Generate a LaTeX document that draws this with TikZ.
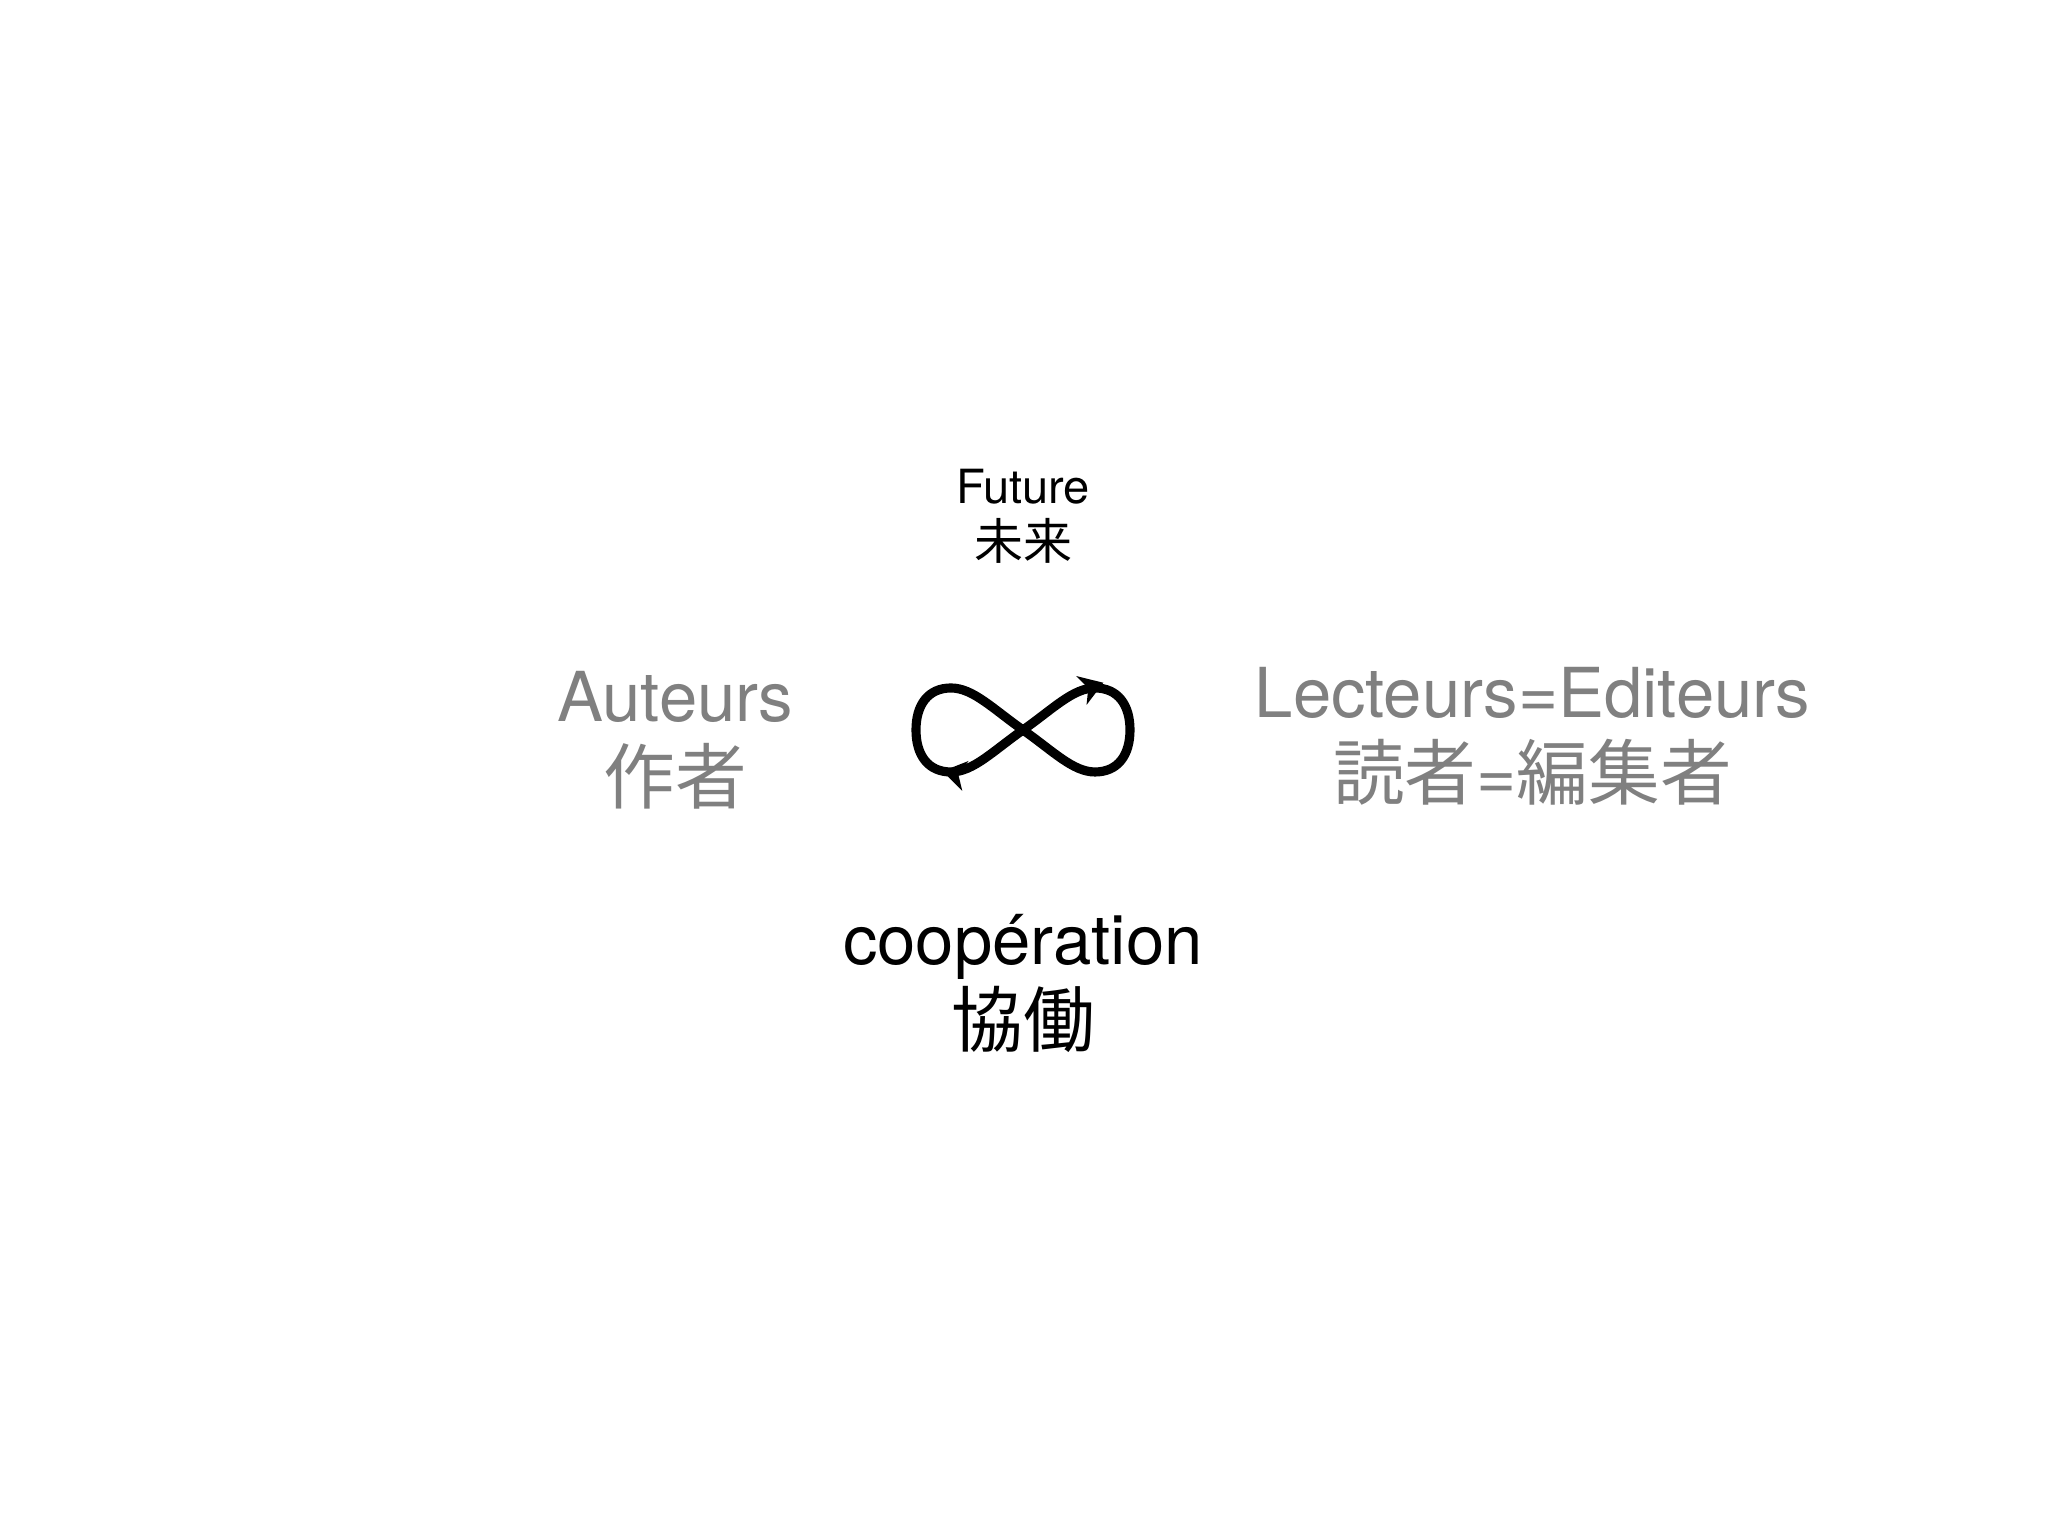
\documentclass[tikz,border=0pt]{standalone}
\usepackage{fontspec}
\setmainfont{TeX Gyre Heros}
\newfontfamily\jp[Scale=1.04]{Noto Sans CJK JP}
\usetikzlibrary{positioning, arrows.meta, decorations.markings}
\definecolor{rolegray}{gray}{0.5}
\tikzset{
    tag/.style={align=center, inner sep=0pt},
    bigtag/.style={tag, font=\fontsize{19.6}{23.3}\selectfont},
    smalltag/.style={tag, font=\fontsize{13.4}{15.9}\selectfont},
    role/.style={bigtag, text=rolegray},
    eightpath/.style={
        line width=2.6pt, line cap=round, postaction={decorate},
        decoration={markings,
            mark=at position 0.93cm with {\arrow{Stealth[length=2.3mm,width=3mm,inset=0.7mm]}},
            mark=at position -0.71cm with {\arrow{Stealth[length=2.3mm,width=3mm,inset=0.7mm,reversed]}}}
    },
}
\begin{document}
\begin{tikzpicture}
    \useasboundingbox (0,0) rectangle (20.48,15.36);

    \coordinate (mid) at (10.23,8.06);

    \node[smalltag, above=1.66cm of mid] (future) {Future\\{\jp 未来}};
    \node[role, left=2.29cm of mid, yshift=-1mm] (auteurs) {Auteurs\\{\jp 作者}};
    \node[role, right=2.31cm of mid, yshift=-0.65mm] (lecteurs) {Lecteurs=Editeurs\\{\jp 読者}={\jp 編集者}};
    \node[bigtag, below=1.84cm of mid] (coop) {coopération\\{\jp 協働}};

    \begin{scope}[shift={(mid)}]
      \draw[eightpath] (0,0)
        .. controls (-0.3,-0.21) and (-0.5,-0.42) .. (-0.72,-0.42)
        .. controls (-0.95,-0.42) and (-1.07,-0.25) .. (-1.07,0)
        .. controls (-1.07,0.25) and (-0.95,0.42) .. (-0.72,0.42)
        .. controls (-0.5,0.42) and (-0.3,0.21) .. (0,0)
        .. controls (0.3,-0.21) and (0.5,-0.42) .. (0.72,-0.42)
        .. controls (0.95,-0.42) and (1.07,-0.25) .. (1.07,0)
        .. controls (1.07,0.25) and (0.95,0.42) .. (0.72,0.42)
        .. controls (0.5,0.42) and (0.3,0.21) .. (0,0);
    \end{scope}
\end{tikzpicture}
\end{document}
